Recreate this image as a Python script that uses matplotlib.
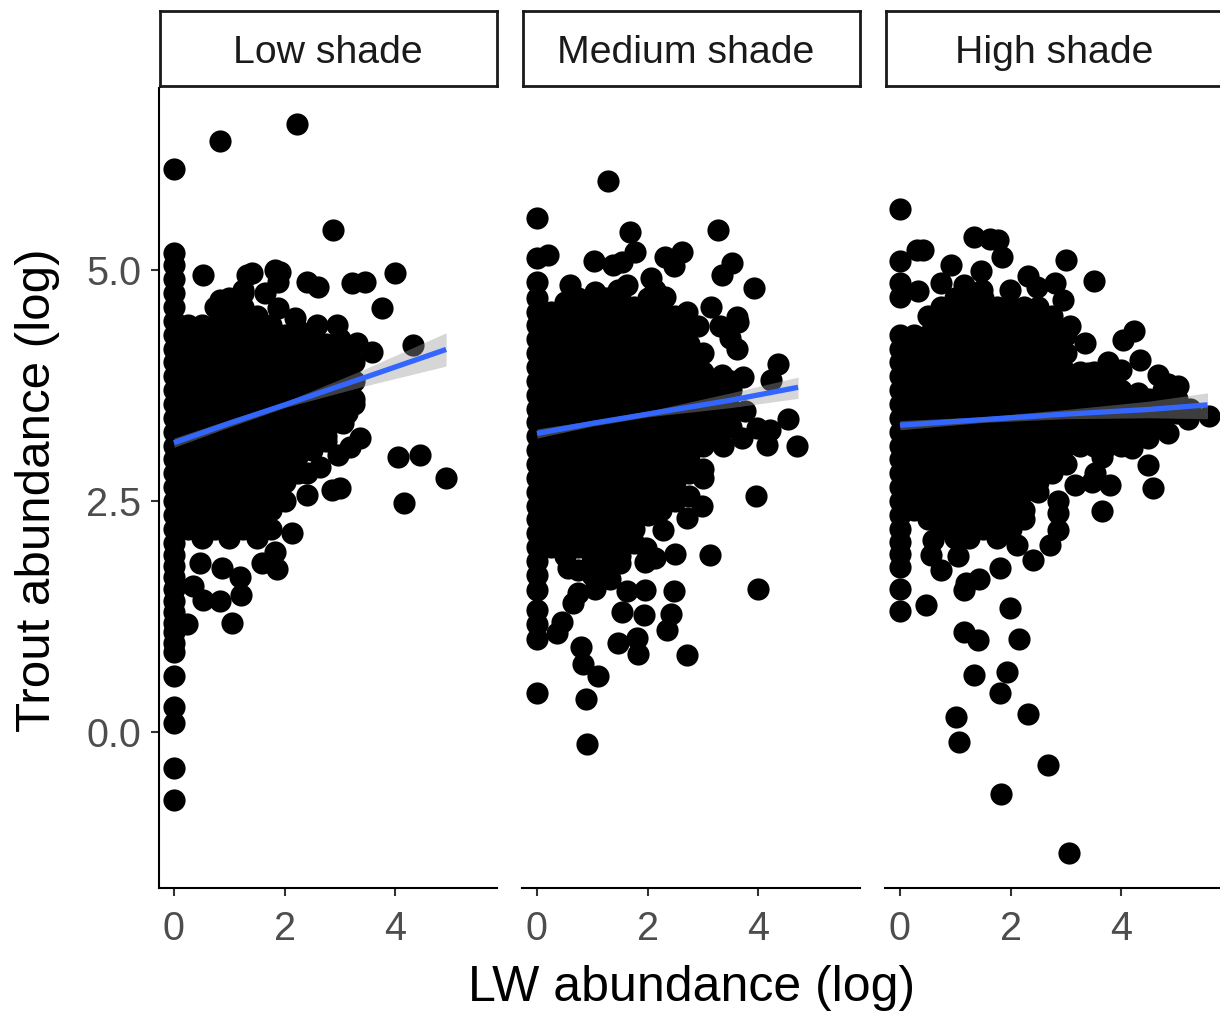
# -*- coding: utf-8 -*-
import matplotlib
matplotlib.use('Agg')
import matplotlib.pyplot as plt

plt.rcParams['font.family'] = ['Liberation Sans', 'DejaVu Sans']

panel_names = ['Low shade', 'Medium shade', 'High shade']
x_ticks = [0, 2, 4]
y_ticks = [0.0, 2.5, 5.0]
y_tick_labels = ['0.0', '2.5', '5.0']

# single points that can be told apart
low_x = [0, 0.83, 2.22, 2.88, 0.53, 1.32, 1.41, 1.83, 1.92, 1.88, 2.40, 2.60, 3.22, 3.45, 4.0, 3.76, 4.32,
         3.58, 3.31, 2.95, 2.58, 2.19, 1.88, 1.65, 0.83, 1.25, 3.18, 3.13, 3.06, 3.36, 3.18, 2.97, 4.05,
         4.45, 4.92, 4.16, 3.0, 2.86, 2.40, 2.64, 2.40, 1.92, 2.13, 1.83, 1.86, 1.59, 1.19, 1.21, 0.83,
         0.52, 0.34, 0.47, 0.87, 1.05, 0.24]
low_y = [6.09, 6.40, 6.58, 5.43, 4.95, 4.95, 4.97, 5.0, 4.98, 4.87, 4.87, 4.82, 4.86, 4.87, 4.97, 4.59, 4.19,
         4.11, 4.21, 4.40, 4.40, 4.48, 4.59, 4.75, 4.68, 4.78, 3.73, 3.45, 3.34, 3.18, 3.08, 3.0, 2.98,
         3.0, 2.75, 2.48, 2.64, 2.62, 2.56, 2.87, 2.80, 2.54, 2.15, 1.95, 1.76, 1.83, 1.68, 1.48, 1.42,
         1.43, 1.58, 1.83, 1.77, 1.18, 1.17]
# the black mass, column by column (x, y values)
low_mass = [
    (0, [-0.74, -0.39, 0.10, 0.27, 0.60, 0.87, 0.96, 1.08, 1.18, 1.30, 1.42, 1.55, 1.68, 1.80, 1.92, 2.05, 2.2,
         2.35, 2.5, 2.65, 2.8, 2.95, 3.1, 3.25, 3.4, 3.55, 3.7, 3.85, 4.0, 4.15, 4.3, 4.45, 4.6, 4.75, 4.9, 5.05, 5.18]),
    (0.25, [2.2, 2.4, 2.6, 2.8, 3.0, 3.2, 3.4, 3.6, 3.8, 4.0, 4.2, 4.4]),
    (0.5, [2.1, 2.3, 2.5, 2.7, 2.9, 3.1, 3.3, 3.5, 3.7, 3.9, 4.1, 4.3, 4.4]),
    (0.75, [2.2, 2.4, 2.6, 2.8, 3.0, 3.2, 3.4, 3.6, 3.8, 4.0, 4.2, 4.4, 4.6]),
    (1.0, [2.1, 2.3, 2.5, 2.7, 2.9, 3.1, 3.3, 3.5, 3.7, 3.9, 4.1, 4.3, 4.5, 4.7]),
    (1.25, [2.2, 2.4, 2.6, 2.8, 3.0, 3.2, 3.4, 3.6, 3.8, 4.0, 4.2, 4.4, 4.6, 4.75]),
    (1.5, [2.1, 2.3, 2.5, 2.7, 2.9, 3.1, 3.3, 3.5, 3.7, 3.9, 4.1, 4.3, 4.5]),
    (1.75, [2.2, 2.4, 2.6, 2.8, 3.0, 3.2, 3.4, 3.6, 3.8, 4.0, 4.2, 4.4]),
    (2.0, [2.5, 2.7, 2.9, 3.1, 3.3, 3.5, 3.7, 3.9, 4.1, 4.3]),
    (2.25, [2.8, 3.0, 3.2, 3.4, 3.6, 3.8, 4.0, 4.2, 4.35]),
    (2.5, [3.05, 3.1, 3.3, 3.5, 3.7, 3.9, 4.1, 4.25]),
    (2.75, [3.15, 3.2, 3.4, 3.6, 3.8, 4.0, 4.2]),
    (3.0, [3.35, 3.5, 3.7, 3.9, 4.1, 4.25]),
    (3.25, [3.55, 3.6, 3.8, 4.0]),
]

med_x = [1.29, 0, 0, 0.2, 1.03, 1.68, 1.78, 1.53, 1.38, 2.31, 2.62, 2.47, 3.27, 3.52, 3.35, 3.93, 3.15, 3.61,
         3.64, 3.31, 3.49, 3.61, 0.6, 1.05, 1.62, 1.47, 2.07, 2.13, 2.31, 2.71, 2.92, 4.36, 4.24, 3.73,
         3.34, 3.76, 4.54, 4.21, 3.97, 4.15, 4.71, 3.70, 3.37, 3.0, 3.96, 2.98, 2.71, 2.28, 2.5, 3.13,
         1.98, 1.95, 2.13, 4.0, 2.47, 1.95, 1.62, 1.53, 1.93, 2.42, 2.36, 1.80, 1.47, 1.83, 2.71, 0.8,
         0.84, 1.1, 0, 0.88, 0.9, 0, 0.36, 0.45, 0.66, 0.75, 0.57, 1.05, 1.32, 1.5]
med_y = [5.96, 5.56, 5.13, 5.16, 5.10, 5.41, 5.2, 5.09, 5.05, 5.14, 5.19, 5.04, 5.43, 5.08, 4.95, 4.80, 4.60, 4.49,
         4.44, 4.39, 4.26, 4.15, 4.84, 4.76, 4.84, 4.78, 4.91, 4.78, 4.71, 4.55, 4.39, 3.98, 3.81, 3.84,
         3.86, 3.47, 3.39, 3.27, 3.29, 3.11, 3.09, 3.18, 3.09, 2.75, 2.55, 2.45, 2.31, 2.19, 1.93, 1.91,
         1.99, 1.84, 1.88, 1.55, 1.52, 1.54, 1.52, 1.30, 1.27, 1.28, 1.10, 1.02, 0.96, 0.84, 0.83, 0.92,
         0.74, 0.6, 0.42, 0.36, -0.13, 1.01, 1.07, 1.19, 1.39, 1.5, 1.77, 1.55, 1.65, 1.83]
med_mass = [
    (0, [1.17, 1.32, 1.54, 1.7, 1.85, 2.0, 2.15, 2.3, 2.45, 2.6, 2.75, 2.9, 3.05, 3.2, 3.35, 3.5, 3.65, 3.8, 3.95,
         4.1, 4.25, 4.4, 4.55, 4.7, 4.87]),
    (0.25, [2.0, 2.2, 2.4, 2.6, 2.8, 3.0, 3.2, 3.4, 3.6, 3.8, 4.0, 4.2, 4.4, 4.55]),
    (0.5, [1.9, 2.1, 2.3, 2.5, 2.7, 2.9, 3.1, 3.3, 3.5, 3.7, 3.9, 4.1, 4.3, 4.5, 4.65]),
    (0.75, [1.75, 2.0, 2.2, 2.4, 2.6, 2.8, 3.0, 3.2, 3.4, 3.6, 3.8, 4.0, 4.2, 4.4, 4.6, 4.7]),
    (1.0, [1.7, 1.9, 2.1, 2.3, 2.5, 2.7, 2.9, 3.1, 3.3, 3.5, 3.7, 3.9, 4.1, 4.3, 4.5, 4.7]),
    (1.25, [1.8, 2.0, 2.2, 2.4, 2.6, 2.8, 3.0, 3.2, 3.4, 3.6, 3.8, 4.0, 4.2, 4.4, 4.6, 4.7]),
    (1.5, [1.9, 2.1, 2.3, 2.5, 2.7, 2.9, 3.1, 3.3, 3.5, 3.7, 3.9, 4.1, 4.3, 4.5, 4.7]),
    (1.75, [2.05, 2.2, 2.4, 2.6, 2.8, 3.0, 3.2, 3.4, 3.6, 3.8, 4.0, 4.2, 4.4, 4.6]),
    (2.0, [2.35, 2.5, 2.7, 2.9, 3.1, 3.3, 3.5, 3.7, 3.9, 4.1, 4.3, 4.5, 4.7]),
    (2.25, [2.4, 2.6, 2.8, 3.0, 3.2, 3.4, 3.6, 3.8, 4.0, 4.2, 4.4, 4.6]),
    (2.5, [2.5, 2.7, 2.9, 3.1, 3.3, 3.5, 3.7, 3.9, 4.1, 4.3, 4.5]),
    (2.75, [2.55, 2.8, 3.0, 3.2, 3.4, 3.6, 3.8, 4.0, 4.2, 4.4]),
    (3.0, [2.85, 3.1, 3.3, 3.5, 3.7, 3.9, 4.1]),
    (3.25, [3.2, 3.4, 3.6, 3.8]),
    (3.5, [3.3, 3.5, 3.7, 3.8]),
]

high_x = [0, 0.3, 0.42, 0, 0.92, 1.34, 1.63, 1.78, 1.84, 1.46, 3.01, 3.5, 0, 0, 0.33, 0.75, 1.15, 1.48, 1.99, 2.32,
          2.8, 2.47, 2.95, 3.07, 3.35, 4.24, 4.04, 4.34, 3.77, 4.0, 4.67, 5.03, 4.85, 4.3, 3.4, 5.58, 5.21,
          4.85, 4.49, 4.19, 4.49, 4.58, 4.13, 3.65, 3.52, 3.8, 3.66, 3.47, 3.16, 2.86, 2.86, 2.71, 2.86,
          2.4, 1.8, 2.11, 0.74, 0.57, 0.6, 1.05, 1.43, 1.2, 1.16, 0.47, 0, 0, 0, 0, 0, 1.99, 1.16, 1.42, 2.16,
          1.34, 1.93, 1.8, 2.32, 1.01, 1.07, 2.67, 1.83, 3.06]
high_y = [5.66, 5.22, 5.22, 5.10, 5.05, 5.36, 5.34, 5.33, 5.14, 4.99, 5.11, 4.88, 4.86, 4.71, 4.77, 4.86, 4.84, 4.78, 4.78, 4.93,
          4.86, 4.82, 4.68, 4.39, 4.21, 4.34, 4.24, 4.03, 4.0, 3.92, 3.86, 3.74, 3.77, 3.67, 3.88, 3.42, 3.39,
          3.23, 3.18, 3.07, 2.89, 2.64, 3.2, 2.98, 2.8, 2.67, 2.39, 2.71, 2.67, 2.5, 2.37, 2.02, 2.19,
          1.86, 1.77, 2.02, 1.75, 1.92, 2.08, 1.9, 1.66, 1.61, 1.54, 1.37, 1.31, 1.55, 1.79, 1.93, 2.06, 1.34, 1.08, 0.99, 1.01,
          0.62, 0.65, 0.42, 0.19, 0.16, -0.11, -0.36, -0.67, -1.31]
high_mass = [
    (0, [2.2, 2.35, 2.5, 2.65, 2.8, 2.95, 3.1, 3.25, 3.4, 3.55, 3.7, 3.85, 4.0, 4.15, 4.3]),
    (0.25, [2.4, 2.6, 2.8, 3.0, 3.2, 3.4, 3.6, 3.8, 4.0, 4.2, 4.3]),
    (0.5, [2.3, 2.5, 2.7, 2.9, 3.1, 3.3, 3.5, 3.7, 3.9, 4.1, 4.3, 4.5]),
    (0.75, [2.2, 2.4, 2.6, 2.8, 3.0, 3.2, 3.4, 3.6, 3.8, 4.0, 4.2, 4.4, 4.6]),
    (1.0, [2.1, 2.3, 2.5, 2.7, 2.9, 3.1, 3.3, 3.5, 3.7, 3.9, 4.1, 4.3, 4.5, 4.7]),
    (1.25, [2.1, 2.2, 2.4, 2.6, 2.8, 3.0, 3.2, 3.4, 3.6, 3.8, 4.0, 4.2, 4.4, 4.6, 4.7]),
    (1.5, [2.2, 2.3, 2.5, 2.7, 2.9, 3.1, 3.3, 3.5, 3.7, 3.9, 4.1, 4.3, 4.5, 4.7]),
    (1.75, [2.1, 2.2, 2.4, 2.6, 2.8, 3.0, 3.2, 3.4, 3.6, 3.8, 4.0, 4.2, 4.4, 4.6]),
    (2.0, [2.2, 2.3, 2.5, 2.7, 2.9, 3.1, 3.3, 3.5, 3.7, 3.9, 4.1, 4.3, 4.5, 4.6]),
    (2.25, [2.3, 2.4, 2.6, 2.8, 3.0, 3.2, 3.4, 3.6, 3.8, 4.0, 4.2, 4.4, 4.6]),
    (2.5, [2.6, 2.7, 2.9, 3.1, 3.3, 3.5, 3.7, 3.9, 4.1, 4.3, 4.5, 4.6]),
    (2.75, [2.8, 3.0, 3.2, 3.4, 3.6, 3.8, 4.0, 4.2, 4.4, 4.5]),
    (3.0, [2.9, 3.1, 3.3, 3.5, 3.7, 3.9, 4.1, 4.3]),
    (3.25, [3.1, 3.2, 3.4, 3.6, 3.8, 3.9]),
    (3.5, [3.1, 3.3, 3.5, 3.7, 3.9]),
    (3.75, [3.1, 3.2, 3.4, 3.6, 3.8]),
    (4.0, [3.1, 3.3, 3.5, 3.7]),
    (4.25, [3.2, 3.4, 3.6]),
    (4.5, [3.3, 3.5, 3.6]),
    (4.75, [3.4, 3.6, 3.7]),
    (5.0, [3.45, 3.6]),
    (5.25, [3.5]),
]

# fitted lines and their ribbons
low_fit_x = [0, 1.0, 2.0, 3.42, 4.92]
low_fit_y = [3.13, 3.34, 3.54, 3.83, 4.14]
low_fit_lo = [3.08, 3.30, 3.51, 3.74, 3.96]
low_fit_hi = [3.18, 3.38, 3.57, 3.92, 4.32]

med_fit_x = [0, 1.0, 2.0, 3.5, 4.72]
med_fit_y = [3.23, 3.34, 3.44, 3.59, 3.73]
med_fit_lo = [3.18, 3.31, 3.41, 3.51, 3.61]
med_fit_hi = [3.28, 3.37, 3.47, 3.67, 3.84]

high_fit_x = [0, 1.5, 3.0, 4.5, 5.56]
high_fit_y = [3.32, 3.38, 3.44, 3.49, 3.54]
high_fit_lo = [3.27, 3.35, 3.39, 3.40, 3.39]
high_fit_hi = [3.37, 3.41, 3.49, 3.58, 3.67]

panels = [
    (low_x, low_y, low_mass, low_fit_x, low_fit_y, low_fit_lo, low_fit_hi),
    (med_x, med_y, med_mass, med_fit_x, med_fit_y, med_fit_lo, med_fit_hi),
    (high_x, high_y, high_mass, high_fit_x, high_fit_y, high_fit_lo, high_fit_hi),
]
panel_left = [159, 522, 885]

W, H = 1220, 1019
fig = plt.figure(figsize=(W / 100, H / 100), dpi=100)

for i in range(0, 3):
    xs, ys, mass, fx, fy, flo, fhi = panels[i]
    left = panel_left[i]
    ax = fig.add_axes([left / W, 1 - 888 / H, 338 / W, 800 / H])
    ax.set_xlim(-0.27, 5.84)
    ax.set_ylim(-1.69, 6.97)

    px = list(xs)
    py = list(ys)
    for col_x, col_y in mass:
        for v in col_y:
            px.append(col_x)
            py.append(v)
    ax.scatter(px, py, s=255, color='black', linewidths=0, zorder=2)

    ax.fill_between(fx, flo, fhi, color='#999999', alpha=0.4, linewidth=0, zorder=3)
    ax.plot(fx, fy, color='#3366FF', linewidth=3.8, solid_capstyle='butt', zorder=4)

    ax.spines['top'].set_visible(False)
    ax.spines['right'].set_visible(False)
    ax.spines['bottom'].set_linewidth(1.5)
    ax.spines['left'].set_linewidth(1.5)
    ax.set_xticks(x_ticks)
    ax.tick_params(axis='x', length=6, width=1.5, color='#333333', labelsize=28.5,
                   labelcolor='#4D4D4D', pad=10)
    if i == 0:
        ax.set_yticks(y_ticks)
        ax.set_yticklabels(y_tick_labels)
        ax.tick_params(axis='y', length=6, width=1.5, color='#333333', labelsize=28.5,
                       labelcolor='#4D4D4D', pad=7)
    else:
        ax.spines['left'].set_visible(False)
        ax.set_yticks([])

    # strip above the panel
    st = fig.add_axes([(left + 1) / W, 1 - 86 / H, 337 / W, 75 / H])
    st.set_xticks([])
    st.set_yticks([])
    for s in st.spines.values():
        s.set_linewidth(2)
        s.set_color('#1A1A1A')
    strip_center = [328, 686, 1054][i]
    fig.text(strip_center / W, 1 - 53 / H, panel_names[i], fontsize=28.3, color='#1A1A1A',
             ha='center', va='center')

fig.text(692 / W, 1 - 988 / H, 'LW abundance (log)', fontsize=36, color='black', ha='center', va='center')
fig.text(38 / W, 1 - 490 / H, 'Trout abundance (log)', fontsize=35.5, color='black', rotation=90,
         ha='center', va='center')

fig.savefig('out.png', dpi=100)
